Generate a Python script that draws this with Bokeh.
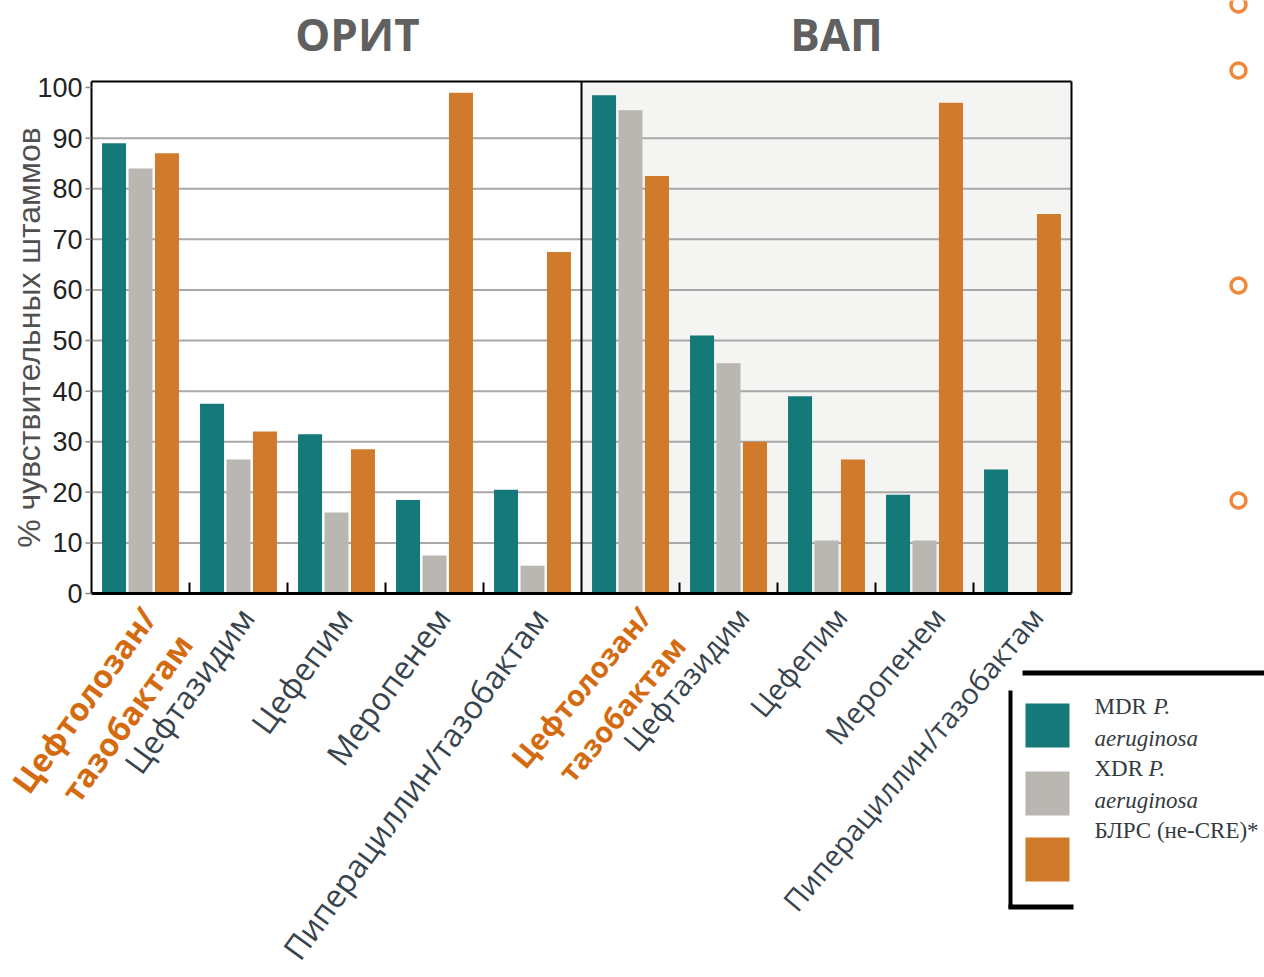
import numpy as np
from bokeh.plotting import figure
from bokeh.models import Range1d
from bokeh.core.properties import value
from bokeh.embed import file_html
from bokeh.resources import INLINE

# ---- data -------------------------------------------------------------
panels = ["ОРИТ", "ВАП"]
drugs = ["Цефтолозан/\nтазобактам", "Цефтазидим", "Цефепим", "Меропенем",
         "Пиперациллин/тазобактам"]
highlighted = [True, False, False, False, False]
series = ["MDR P. aeruginosa", "XDR P. aeruginosa", "БЛРС (не-CRE)*"]
colors = ["#15797a", "#bab6b1", "#d07b2c"]

# % susceptible strains, ICU (ОРИТ)
icu_mdr = [89, 37.5, 31.5, 18.5, 20.5]
icu_xdr = [84, 26.5, 16, 7.5, 5.5]
icu_esbl = [87, 32, 28.5, 99, 67.5]
# % susceptible strains, VAP (ВАП)
vap_mdr = [98.5, 51, 39, 19.5, 24.5]
vap_xdr = [95.5, 45.5, 10.5, 10.5, 0]
vap_esbl = [82.5, 30, 26.5, 97, 75]

values = [[icu_mdr, icu_xdr, icu_esbl], [vap_mdr, vap_xdr, vap_esbl]]
y_ticks = list(range(0, 101, 10))
y_label = "% чувствительных штаммов"

# ---- geometry: the plotting area of the chart inside the page -----------
W, H = 1264, 977
FL, FR, FT, FB = 91, 1071, 81, 593
n = len(drugs)
X0, X1 = 0, 2 * n
Y0, Y1 = 0, 101.2
PPX = (FR - FL) / (X1 - X0)
PPY = (FB - FT) / (Y1 - Y0)


def dx(px):
    return X0 + (px - FL) / PPX


def dy(py):
    return Y0 + (FB - py) / PPY


# the frame covers the whole page; the chart area is mapped into it
p = figure(width=W, height=H, x_range=Range1d(dx(0), dx(W)),
           y_range=Range1d(dy(H), dy(0)), title=None,
           output_backend="svg", toolbar_location=None,
           x_axis_location=None, y_axis_location=None,
           min_border=0, background_fill_color="white", border_fill_color="white")
p.outline_line_color = None
p.grid.visible = False

# panel backgrounds
p.quad(left=[X0, n], right=[n, X1], bottom=[Y0, Y0], top=[Y1, Y1],
       fill_color=["white", "#f4f4f2"], line_color=None)

# horizontal grid
grid = [t for t in y_ticks if Y0 < t < 100]
p.segment(x0=[X0] * len(grid), x1=[X1] * len(grid), y0=grid, y1=grid,
          line_color="#a8a8a8", line_width=2)

# bars
bar_w = 0.245
step = 0.27
for j in range(len(panels)):
    for k in range(len(series)):
        xs = [j * n + i + 0.5 + (k - 1) * step for i in range(n)]
        p.vbar(x=xs, top=values[j][k], bottom=0, width=bar_w,
               fill_color=colors[k], line_color=None)

# frame, panel divider and baseline
p.segment(x0=[X0, X0, X1, n], x1=[X1, X0, X1, n], y0=[Y1, Y0, Y0, Y0],
          y1=[Y1, Y1, Y1, Y1], line_color="black", line_width=2)
p.segment(x0=[X0], x1=[X1], y0=[Y0], y1=[Y0], line_color="black", line_width=3)

# short separators between drug groups
seps = [k for k in range(1, 2 * n) if k != n]
p.segment(x0=seps, x1=seps, y0=[Y0] * len(seps), y1=[Y0 + 11 / PPY] * len(seps),
          line_color="black", line_width=2)

# y ticks and tick labels
p.segment(x0=[X0 - 6 / PPX] * len(y_ticks), x1=[X0] * len(y_ticks),
          y0=y_ticks, y1=y_ticks, line_color="#888888", line_width=1.5)
p.text(x=[X0 - 9 / PPX] * len(y_ticks), y=y_ticks, text=[str(t) for t in y_ticks],
       text_align="right", text_baseline="middle",
       text_font=value("Liberation Sans"), text_font_size="27px",
       text_color="#222222")

# y axis title
p.text(x=[dx(28)], y=[dy(337)], text=[y_label], angle=np.pi / 2,
       text_align="center", text_baseline="middle",
       text_font=value("Liberation Sans"), text_font_size="32px",
       text_color="#505050")

# panel titles
title_px = [357, 836]
p.text(x=[dx(v) for v in title_px], y=[dy(33)] * 2, text=panels,
       text_align="center", text_baseline="middle",
       text_font=value("Open Sans"), text_font_style="bold",
       text_font_size="44px", text_color="#606060")

# rotated drug labels under each group (each panel has its own slant/size)
angles = [np.deg2rad(54), np.deg2rad(50)]
sizes = ["32px", "29px"]
shifts = [-0.1, -0.01]
line_gap = 45
for j in range(len(panels)):
    ang = angles[j]
    for i, (name, hl) in enumerate(zip(drugs, highlighted)):
        c = j * n + i + 0.5
        for m, line in enumerate(name.split("\n")):
            off = m * line_gap
            p.text(x=[c + shifts[j] + off * np.sin(ang) / PPX],
                   y=[dy(598) - off * np.cos(ang) / PPY],
                   text=[line], angle=ang, text_align="right", text_baseline="top",
                   text_font=value("Open Sans"), text_font_size=sizes[j],
                   text_font_style="bold" if hl else "normal",
                   text_color="#d46b10" if hl else "#37444e")

# legend box
box = [(1022, 1264, 670, 675), (1008, 1012, 690, 908), (1008, 1073, 904, 909)]
p.quad(left=[dx(b[0]) for b in box], right=[dx(b[1]) for b in box],
       top=[dy(b[2]) for b in box], bottom=[dy(b[3]) for b in box],
       fill_color="black", line_color=None)
sw_top = [703, 771, 837]
p.quad(left=[dx(1025)] * 3, right=[dx(1069)] * 3, top=[dy(v) for v in sw_top],
       bottom=[dy(v + 44) for v in sw_top], fill_color=colors, line_color=None)

legend_color = "#333a40"
baselines = [[706, 738], [768, 800], [830]]
p_x = [1153, 1148]
for k, name in enumerate(series):
    if " P. " in name:
        head, tail = name.split(" P. ")
        parts = [(1094, baselines[k][0], head, "normal"),
                 (p_x[k], baselines[k][0], "P.", "italic"),
                 (1094, baselines[k][1], tail, "italic")]
    else:
        parts = [(1094, baselines[k][0], name, "normal")]
    for px, py, txt, style in parts:
        p.text(x=[dx(px)], y=[dy(py)], text=[txt], text_align="left",
               text_baseline="alphabetic", text_font=value("Liberation Serif"),
               text_font_size="23px", text_font_style=style, text_color=legend_color)

# decorative rings on the right edge
ring_y = [4, 70, 285, 500]
p.scatter(x=[dx(1238)] * len(ring_y), y=[dy(v) for v in ring_y], marker="circle",
          size=15, fill_color=None, line_color="#f0873a", line_width=3.5)

open("out.html", "w").write(file_html(p, INLINE))
